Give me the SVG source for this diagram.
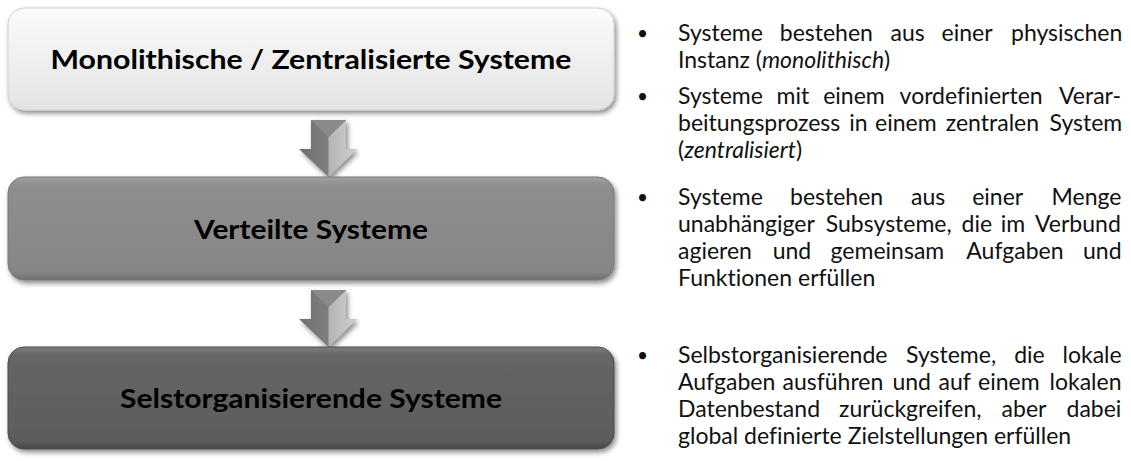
<svg xmlns="http://www.w3.org/2000/svg" width="1131" height="461" viewBox="0 0 1131 461">
<style>
.lbl{font-family:Lato,"Open Sans","Liberation Sans",sans-serif;font-weight:bold;font-size:27px;fill:#000;text-anchor:middle}
.txt{font-family:Lato,"Open Sans","Liberation Sans",sans-serif;font-size:23px;fill:#111;font-variant-ligatures:none}
.bul{font-size:19px}
.it{font-style:italic}
</style>
<defs>
<filter id="sh" x="-5%" y="-10%" width="110%" height="130%">
<feDropShadow dx="2" dy="3" stdDeviation="2.5" flood-color="#000" flood-opacity="0.45"/>
</filter>
<linearGradient id="g1" x1="0" y1="0" x2="0" y2="1">
<stop offset="0" stop-color="#fbfbfb"/><stop offset="0.5" stop-color="#efefef"/><stop offset="1" stop-color="#e4e4e4"/>
</linearGradient>
<linearGradient id="g2" x1="0" y1="0" x2="0" y2="1">
<stop offset="0" stop-color="#a2a2a2"/><stop offset="0.08" stop-color="#8e8e8e"/><stop offset="0.92" stop-color="#868686"/><stop offset="1" stop-color="#6e6e6e"/>
</linearGradient>
<linearGradient id="g3" x1="0" y1="0" x2="0" y2="1">
<stop offset="0" stop-color="#7e7e7e"/><stop offset="0.08" stop-color="#666"/><stop offset="0.92" stop-color="#5c5c5c"/><stop offset="1" stop-color="#474747"/>
</linearGradient>
<linearGradient id="ga" x1="0" y1="0" x2="1" y2="0">
<stop offset="0" stop-color="#6f6f6f"/><stop offset="1" stop-color="#8d8d8d"/>
</linearGradient>
<linearGradient id="gb" x1="0" y1="0" x2="1" y2="0">
<stop offset="0" stop-color="#b4b4b4"/><stop offset="1" stop-color="#d0d0d0"/>
</linearGradient>
<g id="arrowShape">
<polygon points="311,0 346,0 346,29 357,29 328.5,57 299,29 311,29" fill="url(#ga)"/>
<polygon points="328.5,17 346,0 346,29 357,29 328.5,57" fill="url(#gb)"/>
<polygon points="311,0 346,0 328.5,17" fill="#8a8a8a"/>
</g>
</defs>

<g id="connectors" filter="url(#sh)">
<use href="#arrowShape" transform="translate(0,120)"/>
<use href="#arrowShape" transform="translate(0,290)"/>
</g>

<g id="node-monolithisch">
<rect x="8" y="8" width="606" height="102" rx="16" fill="url(#g1)" stroke="#cfcfcf" stroke-width="1" filter="url(#sh)"/>
<text class="lbl" x="311" y="69" textLength="521" lengthAdjust="spacingAndGlyphs">Monolithische / Zentralisierte Systeme</text>
</g>

<g id="node-verteilt">
<rect x="8" y="177" width="606" height="103" rx="16" fill="url(#g2)" stroke="#777" stroke-width="1" filter="url(#sh)"/>
<text class="lbl" x="311" y="239" textLength="234" lengthAdjust="spacingAndGlyphs">Verteilte Systeme</text>
</g>

<g id="node-selbstorg">
<rect x="8" y="347" width="606" height="102" rx="16" fill="url(#g3)" stroke="#4a4a4a" stroke-width="1" filter="url(#sh)"/>
<text class="lbl" x="311" y="408" textLength="382" lengthAdjust="spacingAndGlyphs">Selstorganisierende Systeme</text>
</g>

<g id="bullets" class="txt">
<text class="bul" x="637" y="40">•</text>
<text y="41"><tspan x="678">Systeme</tspan><tspan x="779.8">bestehen</tspan><tspan x="890.6">aus</tspan><tspan x="941.5">einer</tspan><tspan x="1011">physischen</tspan></text>
<text x="678" y="68">Instanz (<tspan class="it">monolithisch</tspan>)</text>
<text class="bul" x="637" y="103">•</text>
<text y="104"><tspan x="678">Systeme</tspan><tspan x="776.5">mit</tspan><tspan x="823.2">einem</tspan><tspan x="899.6">vordefinierten</tspan><tspan x="1059">Verar-</tspan></text>
<text y="131"><tspan x="678">beitungsprozess</tspan><tspan x="849.3">in</tspan><tspan x="875.1">einem</tspan><tspan x="945.8">zentralen</tspan><tspan x="1049.5">System</tspan></text>
<text x="678" y="158">(<tspan class="it">zentralisiert</tspan>)</text>
<text class="bul" x="637" y="204">•</text>
<text y="205"><tspan x="678">Systeme</tspan><tspan x="790">bestehen</tspan><tspan x="911.1">aus</tspan><tspan x="972.2">einer</tspan><tspan x="1051.5">Menge</tspan></text>
<text y="232"><tspan x="678">unabhängiger</tspan><tspan x="825.8">Subsysteme,</tspan><tspan x="961.6">die</tspan><tspan x="1000.7">im</tspan><tspan x="1035">Verbund</tspan></text>
<text y="259"><tspan x="678">agieren</tspan><tspan x="772.7">und</tspan><tspan x="830.6">gemeinsam</tspan><tspan x="966.3">Aufgaben</tspan><tspan x="1083">und</tspan></text>
<text x="678" y="286">Funktionen erfüllen</text>
<text class="bul" x="637" y="362">•</text>
<text y="363"><tspan x="678">Selbstorganisierende</tspan><tspan x="906">Systeme,</tspan><tspan x="1014.2">die</tspan><tspan x="1062.5">lokale</tspan></text>
<text y="390"><tspan x="678">Aufgaben</tspan><tspan x="782.5">ausführen</tspan><tspan x="892.4">und</tspan><tspan x="938.6">auf</tspan><tspan x="978.1">einem</tspan><tspan x="1049.5">lokalen</tspan></text>
<text y="417"><tspan x="678">Datenbestand</tspan><tspan x="839">zurückgreifen,</tspan><tspan x="1001.6">aber</tspan><tspan x="1066.5">dabei</tspan></text>
<text x="678" y="444">global definierte Zielstellungen erfüllen</text>
</g>
</svg>
